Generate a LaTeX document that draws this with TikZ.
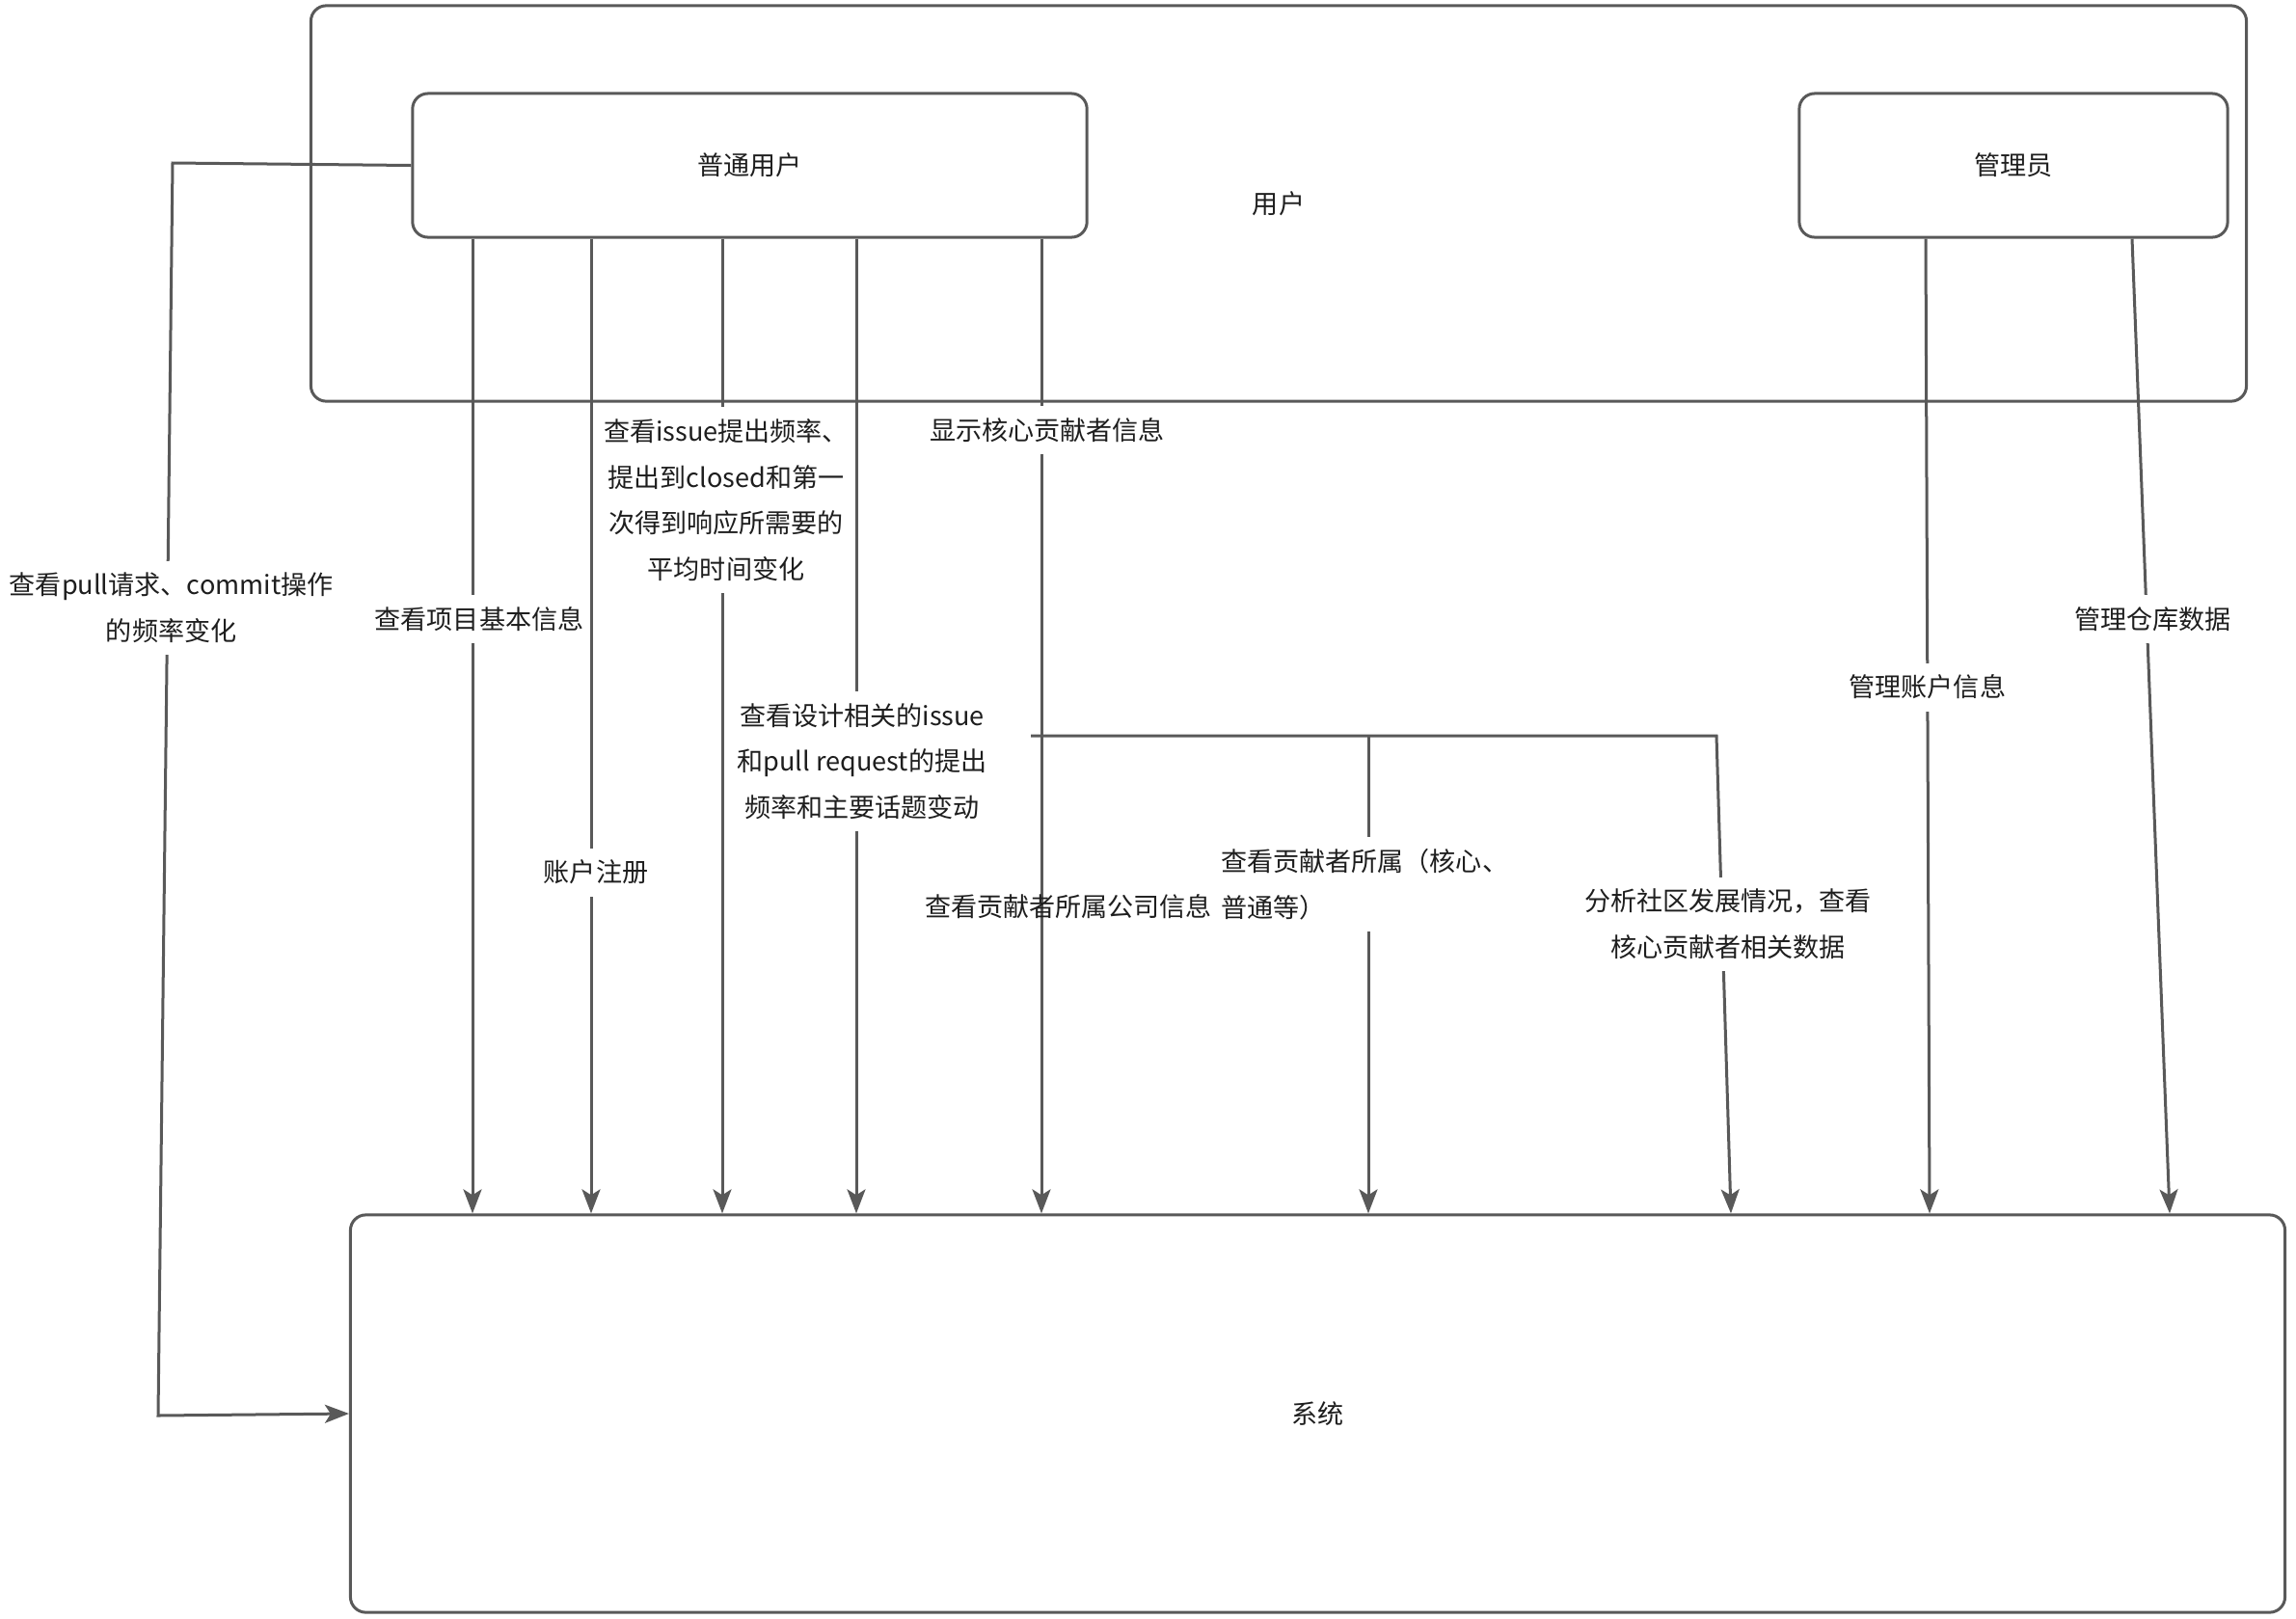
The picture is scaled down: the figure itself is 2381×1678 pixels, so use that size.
\documentclass[tikz,border=0pt]{standalone}
\usepackage{fontspec}
\setmainfont{Noto Sans CJK SC}
\usetikzlibrary{arrows.meta}
\definecolor{linegray}{HTML}{595959}
\definecolor{textgray}{HTML}{1E1E1E}

\tikzset{
  box/.style={draw=linegray, line width=0.03cm, rounded corners=0.16cm, text=textgray},
  flow/.style={draw=linegray, line width=0.03cm, -{Stealth[length=0.25cm,width=0.19cm,inset=0.06cm]}},
  lbl/.style={fill=white, text=textgray, inner xsep=1pt, inner ysep=3.5pt, align=center},
}

\begin{document}
\begin{tikzpicture}[x=0.01cm, y=-0.01cm, font=\fontsize{7.7pt}{13.5pt}\selectfont]
    \useasboundingbox (0,0) rectangle (2381,1678);

    % boxes
    \node[box, minimum width=20.06cm, minimum height=4.10cm] (user) at (1326,211) {用户};
    \node[box, minimum width=6.99cm, minimum height=1.49cm] (pu) at (777.5,171.5) {普通用户};
    \node[box, minimum width=4.44cm, minimum height=1.49cm] (adm) at (2088,171.5) {管理员};
    \node[box, minimum width=20.05cm, minimum height=4.12cm] (sys) at (1366.5,1466) {系统};

    % columns
    \coordinate (c1) at (490,0);
    \coordinate (c2) at (613,0);
    \coordinate (c3) at (749,0);
    \coordinate (c4) at (888,0);
    \coordinate (c5) at (1080,0);
    \coordinate (c6) at (1419,0);
    \coordinate (c7) at (1795,0);
    \coordinate (m1) at (1997,0);
    \coordinate (m1b) at (2001,0);
    \coordinate (m2) at (2211,0);
    \coordinate (m2b) at (2250,0);

    % ordinary user
    \draw[flow] (pu.south -| c1) -- node[lbl, pos=0.39, xshift=0.07cm] {查看项目基本信息} (sys.north -| c1);
    \draw[flow] (pu.south -| c2) -- node[lbl, pos=0.65, xshift=0.05cm] {账户注册} (sys.north -| c2);
    \draw[flow] (pu.south -| c3) -- node[lbl, pos=0.268, xshift=0.04cm] {查看issue提出频率、\\提出到closed和第一\\次得到响应所需要的\\平均时间变化} (sys.north -| c3);
    \draw[flow] (pu.south -| c4) -- node[lbl, pos=0.536, xshift=0.06cm] {查看设计相关的issue\\和pull request的提出\\频率和主要话题变动} (sys.north -| c4);
    \draw[flow] (pu.south -| c5) -- node[lbl, pos=0.196, xshift=0.06cm] {显示核心贡献者信息} (sys.north -| c5);

    % left route
    \coordinate (lt) at (179,169);
    \coordinate (lb) at (164,1468);
    \draw[flow] (pu.west) -- (lt) -- node[lbl, pos=0.355, xshift=0.04cm] {查看pull请求、commit操作\\的频率变化} (lb) -- (sys.west);

    % branch
    \coordinate (br0) at (1069,763);
    \coordinate (br1) at (1780,763);
    \draw[flow] (br0) -- (br1) -- node[lbl, pos=0.394, xshift=0.06cm] {分析社区发展情况，查看\\核心贡献者相关数据} (sys.north -| c7);
    \draw[flow] (br0 -| c6) -- (sys.north -| c6);
    \node[lbl, align=left, anchor=west] (lblB) at (1262,917) {查看贡献者所属（核心、\\普通等）};
    \node[text=textgray] (lblA) at (1108,940) {查看贡献者所属公司信息};

    % admin
    \draw[flow] (adm.south -| m1) -- node[lbl, pos=0.46] {管理账户信息} (sys.north -| m1b);
    \draw[flow] (adm.south -| m2) -- node[lbl, pos=0.39, xshift=0.06cm] {管理仓库数据} (sys.north -| m2b);
\end{tikzpicture}
\end{document}
